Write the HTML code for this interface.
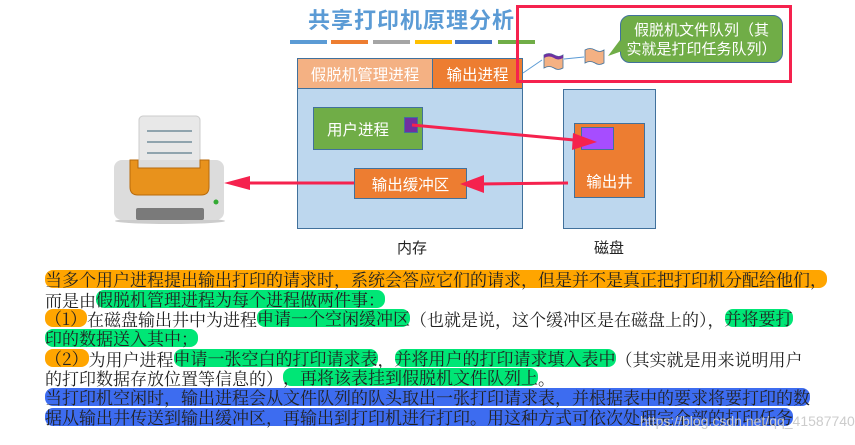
<!DOCTYPE html>
<html><head><meta charset="utf-8"><style>
body{margin:0;width:855px;height:445px;background:#fff;position:relative;overflow:hidden;font-family:"Noto Sans CJK SC",sans-serif}
.a{position:absolute;box-sizing:border-box}
.t{position:absolute;left:45px;font-family:"Noto Serif CJK SC",serif;font-size:17px;line-height:19px;height:19px;color:#222;white-space:nowrap}
.t span{display:inline-block;line-height:18px;height:18px;vertical-align:top}
.o{background:#ffa500;border-radius:8px}
.g{background:#00e676;border-radius:8px}
.b{background:#3d6cf0;border-radius:8px}
.lbl{color:#fff;font-size:15.5px;display:flex;align-items:center;justify-content:center}
</style></head><body>
<div class="a" style="left:308px;top:3px;font-size:22px;font-weight:bold;color:#5b9bd5;letter-spacing:1px">共享打印机原理分析</div>
<div class="a" style="left:290px;top:40px;width:37px;height:4px;background:#5b9bd5"></div>
<div class="a" style="left:331px;top:40px;width:37px;height:4px;background:#ed7d31"></div>
<div class="a" style="left:373px;top:40px;width:37px;height:4px;background:#a5a5a5"></div>
<div class="a" style="left:415px;top:40px;width:37px;height:4px;background:#ffc000"></div>
<div class="a" style="left:455px;top:40px;width:37px;height:4px;background:#4472c4"></div>
<div class="a" style="left:498px;top:40px;width:37px;height:4px;background:#70ad47"></div>

<div class="a" style="left:297px;top:58px;width:226px;height:171px;background:#bdd7ee;border:1px solid #41719c"></div>
<div class="a lbl" style="left:297px;top:58px;width:136px;height:31px;background:#f4b183;border:1px solid #41719c">假脱机管理进程</div>
<div class="a lbl" style="left:432px;top:58px;width:91px;height:31px;background:#ed7d31;border:1px solid #41719c">输出进程</div>
<div class="a lbl" style="left:313px;top:107px;width:110px;height:43px;background:#70ad47;border:1px solid #41719c;padding-right:20px">用户进程</div>
<div class="a" style="left:404px;top:117px;width:14px;height:16px;background:#7030a0;border:1px solid #41719c"></div>
<div class="a lbl" style="left:354px;top:168px;width:113px;height:31px;background:#ed7d31;border:1px solid #41719c">输出缓冲区</div>

<div class="a" style="left:563px;top:89px;width:93px;height:140px;background:#bdd7ee;border:1px solid #41719c"></div>
<div class="a lbl" style="left:574px;top:123px;width:71px;height:75px;background:#ed7d31;border:1px solid #41719c;padding-top:40px">输出井</div>
<div class="a" style="left:581px;top:127px;width:33px;height:23px;background:#a64dff;border:1px solid #41719c"></div>

<div class="a" style="left:397px;top:237px;font-size:15px;color:#222">内存</div>
<div class="a" style="left:594px;top:237px;font-size:15px;color:#222">磁盘</div>

<div class="a" style="left:516px;top:5px;width:276px;height:78px;border:3px solid #f5224e"></div>
<div class="a lbl" style="left:620px;top:15px;width:163px;height:48px;background:#70ad47;border:1px solid #41719c;border-radius:10px;font-size:15px;line-height:19px;text-align:center">假脱机文件队列（其<br>实就是打印任务队列）</div>

<svg class="a" style="left:0;top:0" width="855" height="445">
<polygon points="620,40 608,56 625,50" fill="#70ad47"/>
<path d="M544,55 q5,-3 10,0 q5,3 9,0 v13 q-5,3 -9,0 q-5,-3 -10,0z" fill="#f4b183" stroke="#41719c" stroke-width="0.8"/>
<path d="M544,55 q5,-3 10,0 q5,3 9,0 v3 q-5,3 -9,0 q-5,-3 -10,0z" fill="#7030a0"/>
<path d="M585,50 q5,-3 10,0 q5,3 9,0 v13 q-5,3 -9,0 q-5,-3 -10,0z" fill="#f4b183" stroke="#41719c" stroke-width="0.8"/>
<line x1="523" y1="73" x2="542" y2="60" stroke="#5b9bd5" stroke-width="1"/>
<line x1="564" y1="59" x2="584" y2="57" stroke="#5b9bd5" stroke-width="1"/>
<line x1="412" y1="125" x2="585" y2="141" stroke="#f5224e" stroke-width="3"/>
<polygon points="597,142 573,133 572,150" fill="#f5224e"/>
<line x1="568" y1="183" x2="478" y2="184" stroke="#f5224e" stroke-width="3"/>
<polygon points="460,184 484,175 484,193" fill="#f5224e"/>
<line x1="354" y1="183" x2="240" y2="183" stroke="#f5224e" stroke-width="3"/>
<polygon points="224,183 250,176 250,190" fill="#f5224e"/>
<ellipse cx="170" cy="221" rx="55" ry="3" fill="#ccc"/>
<rect x="139" y="116" width="61" height="55" rx="4" fill="#e8e8e8" stroke="#ccc"/>
<line x1="147" y1="131" x2="192" y2="131" stroke="#90a4ae" stroke-width="2"/>
<line x1="147" y1="142" x2="192" y2="142" stroke="#90a4ae" stroke-width="2"/>
<line x1="147" y1="153" x2="192" y2="153" stroke="#90a4ae" stroke-width="2"/>
<rect x="114" y="160" width="110" height="60" rx="8" fill="#dcdcdc"/>
<path d="M130,160 h8 v8 h62 v-8 h9 v27 q0,8 -8,8 h-63 q-8,0 -8,-8z" fill="#e8921c" stroke="#b86a0a"/>
<rect x="136" y="208" width="68" height="12" rx="2" fill="#7a7a7a"/>
<circle cx="216" cy="202" r="2.5" fill="#3a3"/>
</svg>

<div class="t" style="top:270px"><span class="o">当多个用户进程提出输出打印的请求时，系统会答应它们的请求，但是并不是真正把打印机分配给他们，</span></div>
<div class="t" style="top:290px">而是由<span class="g">假脱机管理进程为每个进程做两件事：</span></div>
<div class="t" style="top:309px"><span class="o">（1）</span>在磁盘输出井中为进程<span class="g">申请一个空闲缓冲区</span>（也就是说，这个缓冲区是在磁盘上的），<span class="g">并将要打</span></div>
<div class="t" style="top:329px"><span class="g">印的数据送入其中；</span></div>
<div class="t" style="top:349px"><span class="o">（2）</span>为用户进程<span class="g">申请一张空白的打印请求表</span>，<span class="g">并将用户的打印请求填入表中</span>（其实就是用来说明用户</div>
<div class="t" style="top:368px">的打印数据存放位置等信息的）<span class="g">，再将该表挂到假脱机文件队列上</span>。</div>
<div class="t" style="top:388px"><span class="b">当打印机空闲时，输出进程会从文件队列的队头取出一张打印请求表，并根据表中的要求将要打印的数</span></div>
<div class="t" style="top:408px"><span class="b">据从输出井传送到输出缓冲区，再输出到打印机进行打印。用这种方式可依次处理完全部的打印任务</span></div>
<div class="a" style="left:640px;top:413px;font-size:14px;color:#ccc;font-family:'Liberation Sans',sans-serif">https://blog.csdn.net/qq_41587740</div>
</body></html>
